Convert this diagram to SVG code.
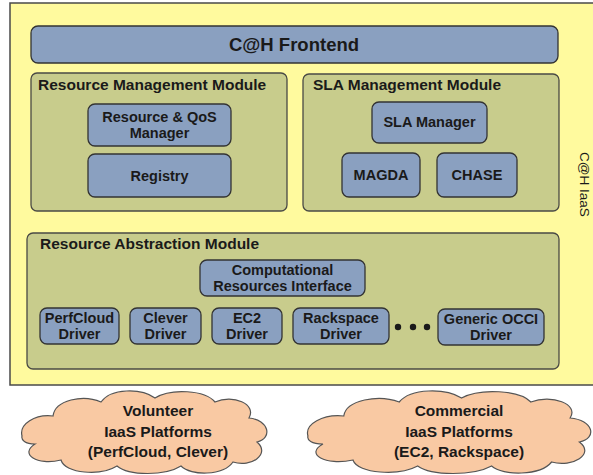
<svg xmlns="http://www.w3.org/2000/svg" width="593" height="475" viewBox="0 0 593 475">
<style>
.outer{fill:#FFFA9E;stroke:#4a4a4a;stroke-width:1.5}
.mod{fill:#C8CC8C;stroke:#4a4a45;stroke-width:1.3}
.node{fill:#8AA0C0;stroke:#333;stroke-width:1.3}
.cloud{fill:#F9C9A3;stroke:#555;stroke-width:1.2}
text{font-family:"Liberation Sans",Arial,sans-serif;font-weight:bold;fill:#1a1a1a}
.t{font-size:14.5px;text-anchor:middle}
.title{font-size:15.5px}
.ct{font-size:15.5px;text-anchor:middle}
</style>
<defs>
<path id="cloudShape" d="M -123,4 C -126,-8 -110,-18 -92,-16 C -90,-32 -62,-38 -44,-30 C -34,-44 -4,-44 10,-34 C 26,-44 60,-42 70,-30 C 88,-38 112,-28 104,-14 C 124,-12 128,6 112,10 C 126,22 106,36 88,30 C 78,44 46,44 36,34 C 20,44 -16,44 -28,34 C -44,44 -80,42 -84,28 C -108,34 -126,22 -110,12 C -120,12 -124,8 -123,4 Z"/>
</defs>

<g id="iaas">
<rect class="outer" x="10" y="3" width="600" height="382"/>
<text transform="translate(580,152) rotate(90)" style="font-size:13.5px;font-weight:normal">C@H IaaS</text>
</g>

<g id="frontend">
<rect class="node" x="31" y="26" width="527" height="37" rx="7"/>
<text x="294" y="51" style="font-size:18.5px;text-anchor:middle">C@H Frontend</text>
</g>

<g id="rmm">
<rect class="mod" x="31" y="73" width="256" height="138" rx="6"/>
<text class="title" x="38" y="90">Resource Management Module</text>
</g>
<g id="qos">
<rect class="node" x="88" y="104" width="143" height="42" rx="7"/>
<text class="t" x="159.5" y="122">Resource &amp; QoS</text>
<text class="t" x="159.5" y="138">Manager</text>
</g>
<g id="registry">
<rect class="node" x="88" y="154" width="143" height="43" rx="7"/>
<text class="t" x="159.5" y="181">Registry</text>
</g>

<g id="slamm">
<rect class="mod" x="303" y="74" width="256" height="137" rx="6"/>
<text class="title" x="313" y="90">SLA Management Module</text>
</g>
<g id="slamanager">
<rect class="node" x="372" y="102" width="115" height="41" rx="7"/>
<text class="t" x="429.5" y="127">SLA Manager</text>
</g>
<g id="magda">
<rect class="node" x="342" y="153" width="78" height="44" rx="7"/>
<text class="t" x="381" y="180">MAGDA</text>
</g>
<g id="chase">
<rect class="node" x="437" y="153" width="80" height="44" rx="7"/>
<text class="t" x="477" y="180">CHASE</text>
</g>

<g id="ram">
<rect class="mod" x="27" y="233" width="532" height="136" rx="6"/>
<text class="title" x="40" y="249">Resource Abstraction Module</text>
</g>
<g id="cri">
<rect class="node" x="200" y="260" width="165" height="36" rx="7"/>
<text class="t" x="282.5" y="275">Computational</text>
<text class="t" x="282.5" y="291">Resources Interface</text>
</g>
<g id="perfcloud">
<rect class="node" x="40" y="308" width="79" height="36" rx="7"/>
<text class="t" x="79.5" y="323">PerfCloud</text>
<text class="t" x="79.5" y="339">Driver</text>
</g>
<g id="clever">
<rect class="node" x="130" y="308" width="71" height="36" rx="7"/>
<text class="t" x="165.5" y="323">Clever</text>
<text class="t" x="165.5" y="339">Driver</text>
</g>
<g id="ec2">
<rect class="node" x="212" y="308" width="70" height="36" rx="7"/>
<text class="t" x="247" y="323">EC2</text>
<text class="t" x="247" y="339">Driver</text>
</g>
<g id="rackspace">
<rect class="node" x="293" y="308" width="96" height="36" rx="7"/>
<text class="t" x="341" y="323">Rackspace</text>
<text class="t" x="341" y="339">Driver</text>
</g>
<g id="dots" fill="#1a1a1a">
<circle cx="398" cy="327" r="3.2"/>
<circle cx="413" cy="327" r="3.2"/>
<circle cx="427" cy="327" r="3.2"/>
</g>
<g id="occi">
<rect class="node" x="438" y="309" width="106" height="36" rx="7"/>
<text class="t" x="491" y="324">Generic OCCI</text>
<text class="t" x="491" y="340">Driver</text>
</g>

<g id="volunteer">
<use href="#cloudShape" class="cloud" transform="translate(145,432)"/>
<text class="ct" x="158" y="416">Volunteer</text>
<text class="ct" x="158" y="437">IaaS Platforms</text>
<text class="ct" x="158" y="457">(PerfCloud, Clever)</text>
</g>
<g id="commercial">
<path d="M -123,4 C -126,-8 -110,-18 -92,-16 C -90,-32 -62,-38 -44,-30 C -34,-44 -4,-44 10,-34 C 26,-44 60,-42 70,-30 C 88,-38 112,-28 104,-14 C 124,-12 128,6 112,10 C 126,22 106,36 88,30 C 78,44 46,44 36,34 C 20,44 -16,44 -28,34 C -44,44 -80,42 -84,28 C -108,34 -126,22 -110,12 C -120,12 -124,8 -123,4 Z" class="cloud" vector-effect="non-scaling-stroke" transform="translate(450,432) scale(1.155,1)"/>
<text class="ct" x="459" y="416">Commercial</text>
<text class="ct" x="459" y="437">IaaS Platforms</text>
<text class="ct" x="459" y="457">(EC2, Rackspace)</text>
</g>
</svg>
